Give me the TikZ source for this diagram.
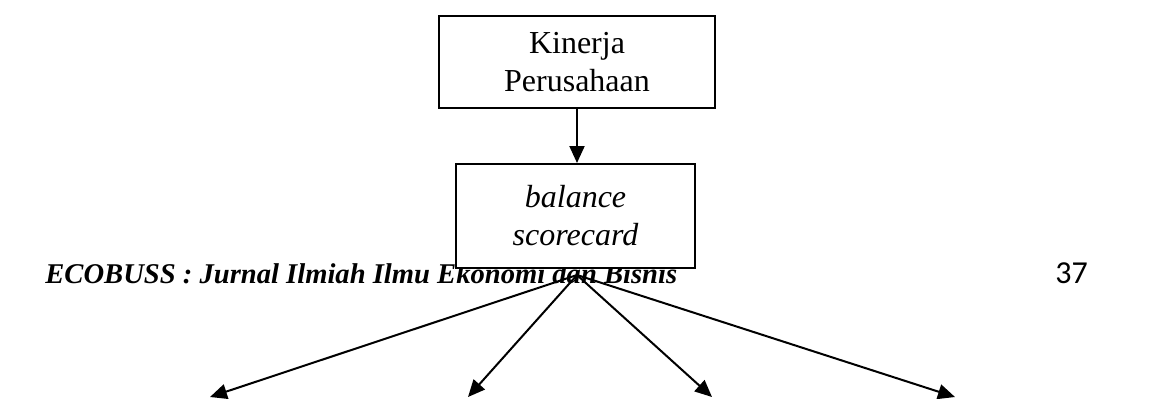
\documentclass[tikz,border=0pt]{standalone}
\usepackage{fontspec}
\setmainfont{Liberation Serif}
\newfontfamily\calibri{Carlito}
\usetikzlibrary{arrows.meta}

\begin{document}
\begin{tikzpicture}[x=0.5pt, y=-0.5pt,
  kotak/.style={draw=black, line width=1pt, fill=white, align=center,
    font=\fontsize{16}{19}\selectfont, inner sep=0pt},
  panah/.style={line width=1pt, -{Triangle[length=8.5pt,width=7.5pt]}}]
\useasboundingbox (0,0) rectangle (1157,398);
%%%%% Footer %%%%%
\node[anchor=base west, inner sep=0pt, font=\fontsize{14.3}{17}\selectfont\bfseries\itshape] (footer) at (45,283) {ECOBUSS : Jurnal Ilmiah Ilmu Ekonomi dan Bisnis};
\node[anchor=base west, inner sep=0pt, font=\fontsize{16}{19}\selectfont\calibri] (hal) at (1055,283) {37};
%%%%% Boxes %%%%%
\node[kotak, minimum width=138pt, minimum height=46pt] (kinerja) at (577,62) {Kinerja\\Perusahaan};
\node[kotak, minimum width=119.5pt, minimum height=52pt] (bsc) at (575.5,216) {\itshape balance\\\itshape scorecard};
%%%%% Arrows %%%%%
\draw[panah] (kinerja.south) -- (kinerja.south |- bsc.north);
\coordinate (cabang) at (577,275);
\coordinate (keu) at (210,397);
\coordinate (pel) at (468,397);
\coordinate (pbi) at (712,397);
\coordinate (ppt) at (955,397);
\draw[panah] (cabang) -- (keu);
\draw[panah] (cabang) -- (pel);
\draw[panah] (cabang) -- (pbi);
\draw[panah] (cabang) -- (ppt);
\end{tikzpicture}
\end{document}
